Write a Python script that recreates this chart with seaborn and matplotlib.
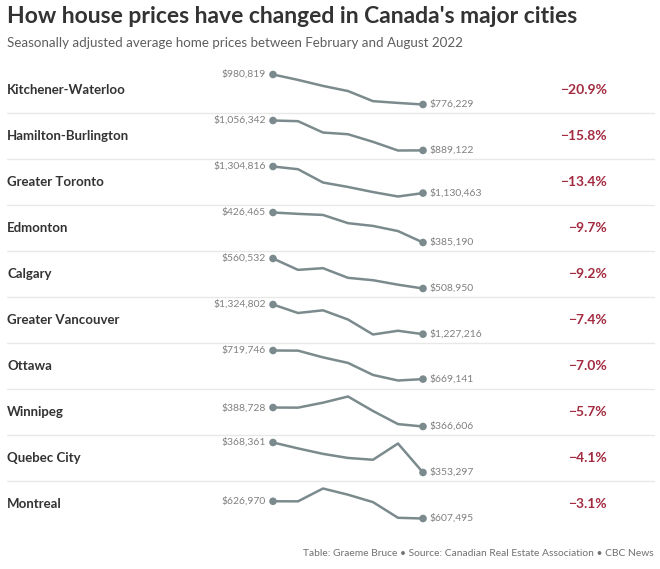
import matplotlib
matplotlib.use("Agg")
import matplotlib.pyplot as plt
import seaborn as sns
import pandas as pd

# ---------------- data ----------------
cities = ["Kitchener-Waterloo", "Hamilton-Burlington", "Greater Toronto", "Edmonton",
          "Calgary", "Greater Vancouver", "Ottawa", "Winnipeg", "Quebec City", "Montreal"]
months = ["Feb", "Mar", "Apr", "May", "Jun", "Jul", "Aug"]

kitchener_waterloo = [980819, 944000, 903000, 868000, 799000, 787000, 776229]
hamilton_burlington = [1056342, 1052500, 989000, 979500, 937000, 888500, 889122]
greater_toronto = [1304816, 1287000, 1199800, 1170700, 1137200, 1108100, 1130463]
edmonton = [426465, 424600, 423100, 411800, 408000, 400900, 385190]
calgary = [560532, 541000, 543900, 527300, 523200, 515500, 508950]
greater_vancouver = [1324802, 1296800, 1305700, 1275400, 1226100, 1238400, 1227216]
ottawa = [719746, 719500, 707600, 697800, 676500, 666700, 669141]
winnipeg = [388728, 388600, 394400, 401600, 384700, 369400, 366606]
quebec_city = [368361, 365400, 362650, 360600, 359700, 367850, 353297]
montreal = [626970, 626900, 641400, 634400, 626000, 608300, 607495]

series = [kitchener_waterloo, hamilton_burlington, greater_toronto, edmonton, calgary,
          greater_vancouver, ottawa, winnipeg, quebec_city, montreal]

title = "How house prices have changed in Canada's major cities"
subtitle = "Seasonally adjusted average home prices between February and August 2022"
footer = "Table: Graeme Bruce \u2022 Source: Canadian Real Estate Association \u2022 CBC News"

# ---------------- style ----------------
sns.set_theme(style="white")
plt.rcParams["font.family"] = ["Lato", "DejaVu Sans"]

W, H = 660, 569
fig = plt.figure(figsize=(W / 100, H / 100), dpi=100)
fig.patch.set_facecolor("white")

# background axes in pixel coordinates for layout text and separators
bg = fig.add_axes([0, 0, 1, 1])
bg.set_xlim(0, W)
bg.set_ylim(H, 0)
bg.axis("off")

LINE_C = "#7b8b8d"
LABEL_C = "#808080"
NAME_C = "#333333"
PCT_C = "#a32b40"

bg.text(7, 16, title, fontsize=16.5, fontweight="bold", color="#333333",
        ha="left", va="center")
bg.text(7, 43, subtitle, fontsize=9.6, color="#5e5e5e", ha="left", va="center")
bg.text(654, 553, footer, fontsize=7.4, color="#707070", ha="right", va="center")

row0, pitch = 90, 46
x_left, x_right = 273, 423

for i, (city, vals) in enumerate(zip(cities, series)):
    yc = row0 + pitch * i
    if i > 0:
        bg.plot([7, 654], [yc - 23, yc - 23], color="#e8e8e8", lw=1)
    bg.text(7, yc, city, fontsize=9.5, fontweight="bold", color=NAME_C,
            ha="left", va="center")
    pct = (vals[-1] - vals[0]) / vals[0] * 100
    bg.text(607, yc, f"\u2212{abs(pct):.1f}%", fontsize=10, fontweight="bold",
            color=PCT_C, ha="right", va="center")

    top, bot = yc - 15.5, yc + 14.5
    ax = fig.add_axes([x_left / W, 1 - bot / H, (x_right - x_left) / W, (bot - top) / H])
    df = pd.DataFrame({"month": range(len(months)), "price": vals})
    sns.lineplot(data=df, x="month", y="price", ax=ax, color=LINE_C, lw=1.8,
                 clip_on=False)
    ends = df.iloc[[0, -1]]
    sns.scatterplot(data=ends, x="month", y="price", ax=ax, color=LINE_C, s=30,
                    edgecolor="none", clip_on=False, zorder=3)
    ax.set_xlim(0, len(months) - 1)
    ax.set_ylim(min(vals), max(vals))
    ax.axis("off")
    ax.patch.set_alpha(0)
    ax.annotate(f"${vals[0]:,.0f}", (0, vals[0]), xytext=(-5, 0),
                textcoords="offset points", ha="right", va="center",
                fontsize=7.5, color=LABEL_C)
    ax.annotate(f"${vals[-1]:,.0f}", (len(months) - 1, vals[-1]), xytext=(5, 0),
                textcoords="offset points", ha="left", va="center",
                fontsize=7.5, color=LABEL_C)

fig.savefig("out.png", dpi=100, facecolor="white")
